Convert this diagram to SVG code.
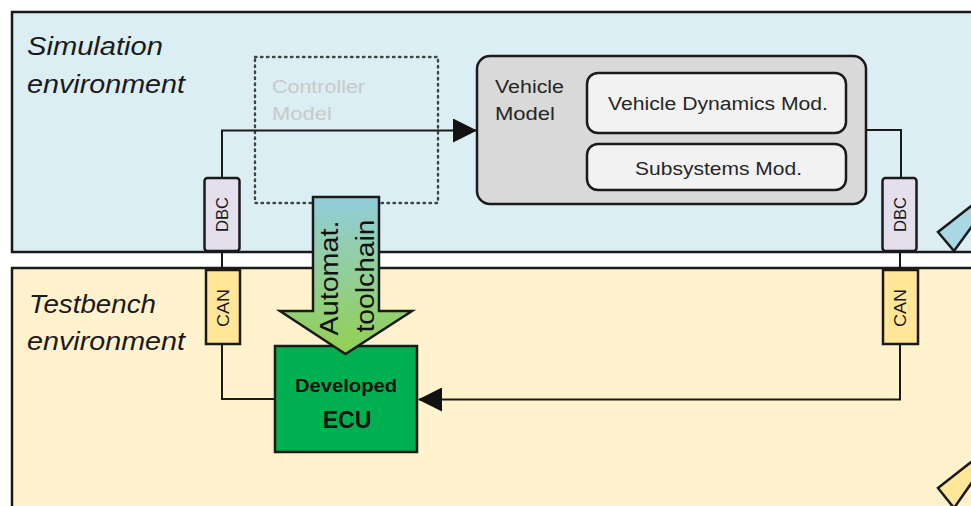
<svg xmlns="http://www.w3.org/2000/svg" width="971" height="506" viewBox="0 0 971 506">
<defs>
<linearGradient id="gArrow" x1="0" y1="0" x2="0" y2="1">
<stop offset="0" stop-color="#92cddc"/>
<stop offset="1" stop-color="#92d050"/>
</linearGradient>
<marker id="ah" viewBox="0 0 24 24" refX="23" refY="12" markerWidth="24" markerHeight="24" markerUnits="userSpaceOnUse" orient="auto">
<path d="M0,0 L24,12 L0,24 Z" fill="#111"/>
</marker>
<style>
.env{stroke:#1a1a1a;stroke-width:2.5}
.envlbl{font-family:"Liberation Sans",Arial,sans-serif;font-style:italic;font-size:25px;fill:#1a1a1a}
.lbl{font-family:"Liberation Sans",Arial,sans-serif;fill:#262626}
.box{stroke:#1a1a1a;stroke-width:2.5}
.conn{fill:none;stroke:#1a1a1a;stroke-width:2}
.tag{font-family:"Liberation Sans",Arial,sans-serif;font-size:16px;fill:#1a1a1a;text-anchor:middle}
</style>
</defs>
<rect width="971" height="506" fill="#ffffff"/>
<g id="simulation-env">
<rect class="env" x="12" y="12" width="975" height="240" fill="#daeef3"/>
<text class="envlbl" x="27" y="55" textLength="136" lengthAdjust="spacingAndGlyphs">Simulation</text>
<text class="envlbl" x="27" y="93" textLength="158" lengthAdjust="spacingAndGlyphs">environment</text>
<polygon class="box" points="938,232 975,203 975,222 954,251" fill="#a9d8e4"/>
</g>
<g id="testbench-env">
<rect class="env" x="12" y="268" width="975" height="260" fill="#fff2cc"/>
<text class="envlbl" x="29" y="313" textLength="127" lengthAdjust="spacingAndGlyphs">Testbench</text>
<text class="envlbl" x="27" y="350" textLength="158" lengthAdjust="spacingAndGlyphs">environment</text>
<polygon class="box" points="938,488 975,459 975,478 954,508" fill="#ffe699"/>
</g>
<g id="controller-model">
<rect x="255" y="57" width="183" height="146" fill="none" stroke="#444" stroke-width="2.4" stroke-dasharray="1.5,4.5" stroke-linecap="round"/>
<text class="lbl" x="272" y="93" font-size="18" style="fill:#c9c9c9" textLength="93" lengthAdjust="spacingAndGlyphs">Controller</text>
<text class="lbl" x="272" y="120" font-size="18" style="fill:#c9c9c9" textLength="60" lengthAdjust="spacingAndGlyphs">Model</text>
</g>
<g id="connectors">
<polyline class="conn" points="222,178 222,130.5 476,130.5" marker-end="url(#ah)"/>
<polyline class="conn" points="866,130 901,130 901,178"/>
<line class="conn" x1="222" y1="251" x2="222" y2="270"/>
<line class="conn" x1="900" y1="251" x2="900" y2="270"/>
<polyline class="conn" points="222,344 222,399 275,399"/>
<polyline class="conn" points="900,344 900,399.5 419,399.5" marker-end="url(#ah)"/>
</g>
<g id="vehicle-model">
<rect class="box" x="477" y="56" width="389" height="148" rx="13" fill="#d9d9d9"/>
<text class="lbl" x="495" y="93" font-size="18" textLength="69" lengthAdjust="spacingAndGlyphs">Vehicle</text>
<text class="lbl" x="495" y="120" font-size="18" textLength="60" lengthAdjust="spacingAndGlyphs">Model</text>
</g>
<g id="vehicle-dynamics">
<rect class="box" x="587" y="73" width="259" height="60" rx="11" fill="#f2f2f2"/>
<text class="lbl" x="608" y="110" font-size="18" textLength="220" lengthAdjust="spacingAndGlyphs">Vehicle Dynamics Mod.</text>
</g>
<g id="subsystems">
<rect class="box" x="587" y="144" width="259" height="46" rx="11" fill="#f2f2f2"/>
<text class="lbl" x="635" y="175" font-size="18" textLength="167" lengthAdjust="spacingAndGlyphs">Subsystems Mod.</text>
</g>
<g id="dbc-left">
<rect class="box" x="204.5" y="178" width="35" height="73" rx="3" fill="#e4dfec"/>
<text class="tag" transform="translate(228,214.5) rotate(-90)" textLength="35" lengthAdjust="spacingAndGlyphs">DBC</text>
</g>
<g id="dbc-right">
<rect class="box" x="882.5" y="178" width="34" height="73" rx="3" fill="#e4dfec"/>
<text class="tag" transform="translate(905.5,214.5) rotate(-90)" textLength="35" lengthAdjust="spacingAndGlyphs">DBC</text>
</g>
<g id="can-left">
<rect class="box" x="206" y="270" width="34" height="74" fill="#ffe699"/>
<text class="tag" transform="translate(228.5,308) rotate(-90)" textLength="38" lengthAdjust="spacingAndGlyphs">CAN</text>
</g>
<g id="can-right">
<rect class="box" x="883" y="270" width="35" height="74" fill="#ffe699"/>
<text class="tag" transform="translate(906,308) rotate(-90)" textLength="38" lengthAdjust="spacingAndGlyphs">CAN</text>
</g>
<g id="developed-ecu">
<rect class="box" x="275" y="346" width="142" height="106" fill="#00b050"/>
<text x="346" y="392" font-family="Liberation Sans,Arial,sans-serif" font-weight="bold" font-size="18" fill="#111" text-anchor="middle" textLength="102" lengthAdjust="spacingAndGlyphs">Developed</text>
<text x="347" y="428" font-family="Liberation Sans,Arial,sans-serif" font-weight="bold" font-size="23" fill="#111" text-anchor="middle">ECU</text>
</g>
<g id="toolchain-arrow">
<polygon class="box" points="313,197 379,197 379,311 412,311 345.5,354 280,311 313,311" fill="url(#gArrow)" stroke-linejoin="miter"/>
<text x="0" y="0" transform="translate(338,278) rotate(-90)" font-family="Liberation Sans,Arial,sans-serif" font-size="26" fill="#111" text-anchor="middle" textLength="115" lengthAdjust="spacingAndGlyphs">Automat.</text>
<text x="0" y="0" transform="translate(374,276) rotate(-90)" font-family="Liberation Sans,Arial,sans-serif" font-size="26" fill="#111" text-anchor="middle" textLength="113" lengthAdjust="spacingAndGlyphs">toolchain</text>
</g>
</svg>
